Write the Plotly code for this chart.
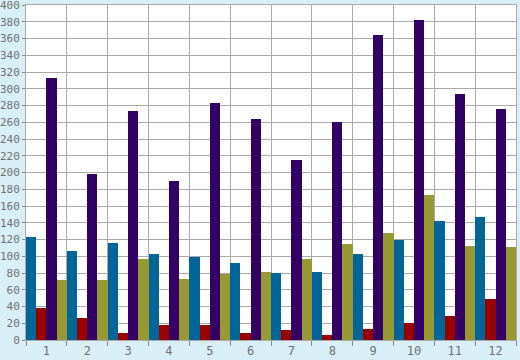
import plotly.graph_objects as go

categories = [str(i) for i in range(1, 13)]
blue_vals = [123, 106, 116, 103, 99, 92, 80, 81, 103, 120, 142, 147]
red_vals = [38, 26, 8, 18, 18, 8, 12, 6, 13, 20, 29, 49]
purple_vals = [313, 198, 273, 190, 283, 264, 215, 260, 364, 382, 294, 276]
olive_vals = [72, 72, 97, 73, 79, 81, 97, 115, 128, 173, 112, 111]

series = [
    ("A", blue_vals, "#006699"),
    ("B", red_vals, "#990000"),
    ("C", purple_vals, "#330066"),
    ("D", olive_vals, "#999933"),
]

fig = go.Figure()
for name, vals, color in series:
    fig.add_trace(go.Bar(x=categories, y=vals, name=name,
                         marker=dict(color=color, line=dict(width=0))))

font = dict(family="DejaVu Sans Mono", size=11, color="#707070")
fig.update_layout(
    width=520, height=360,
    margin=dict(l=26, r=4, t=5, b=20),
    paper_bgcolor="#d9eff7",
    plot_bgcolor="#ffffff",
    barmode="group", bargap=0, bargroupgap=0,
    showlegend=False,
    font=font,
)
fig.update_xaxes(
    type="category", tickson="boundaries", automargin=False,
    showgrid=True, gridcolor="#aaaaaa", gridwidth=1,
    showline=True, linecolor="#aaaaaa", mirror=True,
    ticks="outside", ticklen=5, tickcolor="#888888",
    tickfont=dict(family="DejaVu Sans Mono", size=12, color="#707070"),
    ticklabeloverflow="allow",
)
fig.update_yaxes(
    range=[0, 400], dtick=20, automargin=False,
    showgrid=True, gridcolor="#aaaaaa", gridwidth=1,
    showline=True, linecolor="#aaaaaa", mirror=True,
    ticks="outside", ticklen=3, tickcolor="#888888",
    tickfont=font, zeroline=False, ticklabeloverflow="allow",
)
fig.write_html("out.html",
               config={"displayModeBar": False},
               post_script="document.body.style.margin='0';document.body.style.background='#d9eff7';")
